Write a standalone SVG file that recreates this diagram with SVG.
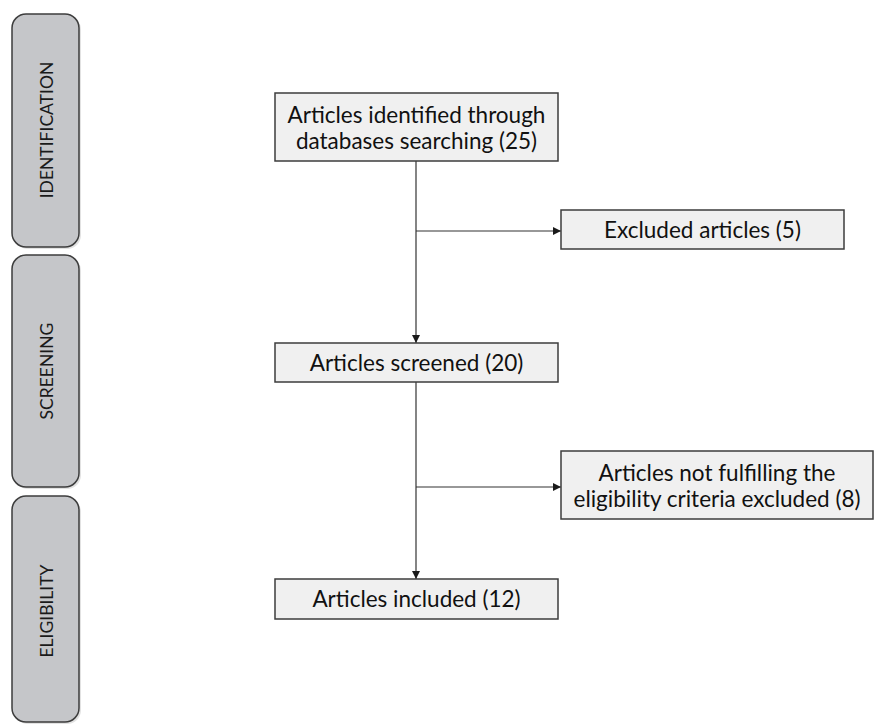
<svg xmlns="http://www.w3.org/2000/svg" width="875" height="724" viewBox="0 0 875 724">
<style>
.panel{fill:#c5c6c9;stroke:#3d3d3d;stroke-width:1.5}
.shadow{fill:#e2e2e2}
.ptxt{font-family:Lato,"Open Sans",sans-serif;font-size:17.5px;fill:#1a1a1a;text-anchor:middle}
.box{fill:#f0f0f0;stroke:#3d3d3d;stroke-width:1.5}
.btxt{font-family:Lato,"Open Sans",sans-serif;font-size:22.5px;fill:#111;text-anchor:middle}
.conn{fill:none;stroke:#333;stroke-width:1.2}
</style>
<defs>
<marker id="arr" viewBox="0 0 10 10" refX="10" refY="5" markerWidth="8" markerHeight="8" markerUnits="userSpaceOnUse" orient="auto">
<path d="M0,0 L10,5 L0,10 z" fill="#1a1a1a"/>
</marker>
</defs>
<rect width="875" height="724" fill="#ffffff"/>
<g id="panel-identification">
<rect class="shadow" x="14" y="16" width="67" height="233" rx="14"/>
<rect class="panel" x="12" y="14" width="67" height="233" rx="14"/>
<text class="ptxt" transform="translate(53,130) rotate(-90)">IDENTIFICATION</text>
</g>
<g id="panel-screening">
<rect class="shadow" x="14" y="257" width="67" height="232" rx="14"/>
<rect class="panel" x="12" y="255" width="67" height="232" rx="14"/>
<text class="ptxt" transform="translate(53,371) rotate(-90)">SCREENING</text>
</g>
<g id="panel-eligibility">
<rect class="shadow" x="14" y="498" width="67" height="226" rx="14"/>
<rect class="panel" x="12" y="496" width="67" height="226" rx="14"/>
<text class="ptxt" transform="translate(53,611) rotate(-90)">ELIGIBILITY</text>
</g>
<g id="connectors">
<line class="conn" x1="416" y1="161" x2="416" y2="343" marker-end="url(#arr)"/>
<line class="conn" x1="416" y1="231" x2="561" y2="231" marker-end="url(#arr)"/>
<line class="conn" x1="416" y1="382" x2="416" y2="579" marker-end="url(#arr)"/>
<line class="conn" x1="416" y1="487" x2="561" y2="487" marker-end="url(#arr)"/>
</g>
<g id="node-identified">
<rect class="box" x="275" y="93" width="283" height="68"/>
<text class="btxt" x="416.5" y="123">Articles identified through</text>
<text class="btxt" x="416.5" y="149">databases searching (25)</text>
</g>
<g id="node-excluded">
<rect class="box" x="561" y="210" width="283" height="39"/>
<text class="btxt" x="702.5" y="238">Excluded articles (5)</text>
</g>
<g id="node-screened">
<rect class="box" x="275" y="343" width="283" height="39"/>
<text class="btxt" x="416.5" y="371">Articles screened (20)</text>
</g>
<g id="node-not-eligible">
<rect class="box" x="561" y="451" width="312" height="68"/>
<text class="btxt" x="717" y="481">Articles not fulfilling the</text>
<text class="btxt" x="717" y="507">eligibility criteria excluded (8)</text>
</g>
<g id="node-included">
<rect class="box" x="275" y="579" width="283" height="40"/>
<text class="btxt" x="416.5" y="607">Articles included (12)</text>
</g>
</svg>
